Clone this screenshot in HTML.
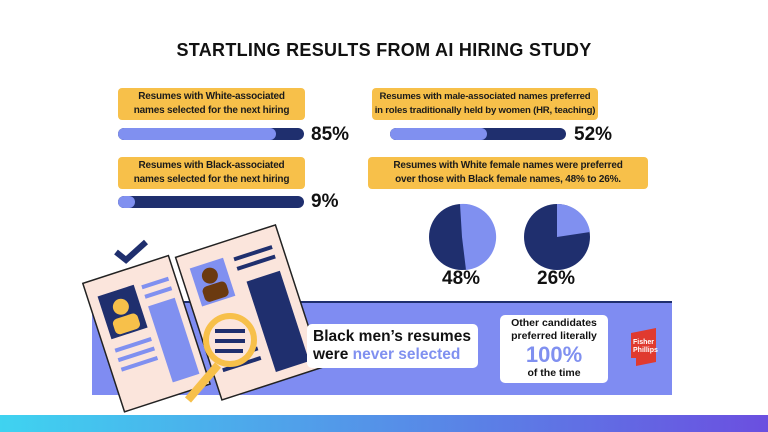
<!DOCTYPE html>
<html><head><meta charset="utf-8"><style>
*{margin:0;padding:0;box-sizing:border-box}
body{width:768px;height:432px;background:#fff;position:relative;overflow:hidden;font-family:"Liberation Sans",sans-serif;font-weight:bold}
.a{position:absolute}
.lab{position:absolute;background:#f7c04a;border-radius:4px;font-size:10px;letter-spacing:-0.2px;line-height:14px;text-align:center;color:#1b1b1b;padding:2px 0;white-space:nowrap;height:32px}
.bar{position:absolute;height:12px;border-radius:6px;background:#1f2f6e;overflow:hidden}
.bar i{display:block;height:100%;background:#8090f0;border-radius:6px}
.pct{position:absolute;font-size:19px;color:#111}
</style></head><body>
<div class="a" style="left:0;top:40px;width:768px;text-align:center;font-size:18px;color:#111;letter-spacing:0.3px">STARTLING RESULTS FROM AI HIRING STUDY</div>

<div class="lab" style="left:118px;top:88px;width:187px">Resumes with White-associated<br>names selected for the next hiring</div>
<div class="bar" style="left:118px;top:128px;width:186px"><i style="width:85%"></i></div>
<div class="pct" style="left:311px;top:124px">85%</div>
<div class="lab" style="left:118px;top:157px;width:187px">Resumes with Black-associated<br>names selected for the next hiring</div>
<div class="bar" style="left:118px;top:196px;width:186px"><i style="width:9%"></i></div>
<div class="pct" style="left:311px;top:191px">9%</div>

<div class="lab" style="left:372px;top:88px;width:226px;font-size:9.6px">Resumes with male-associated names preferred<br>in roles traditionally held by women (HR, teaching)</div>
<div class="bar" style="left:390px;top:128px;width:176px"><i style="width:55%"></i></div>
<div class="pct" style="left:574px;top:124px">52%</div>
<div class="lab" style="left:368px;top:157px;width:280px">Resumes with White female names were preferred<br>over those with Black female names, 48% to 26%.</div>

<svg class="a" style="left:0;top:0" width="768" height="432">
<circle cx="462" cy="237" r="33" fill="#1f2f6e"/>
<path d="M462 237 L460 204 A33 33 0 0 1 466 270 Z" fill="#8090f0"/>
<circle cx="557" cy="237" r="33" fill="#1f2f6e"/>
<path d="M557 237 L557 204 A33 33 0 0 1 590 232 Z" fill="#8090f0"/>
<rect x="92" y="302" width="580" height="93" fill="#7f8cf2"/>
<rect x="92" y="301" width="580" height="2" fill="#1f2f6e"/>
<defs><linearGradient id="g" x1="0" x2="1"><stop offset="0" stop-color="#3fd3f0"/><stop offset="1" stop-color="#6b4fe0"/></linearGradient></defs>
<rect x="0" y="415" width="768" height="17" fill="url(#g)"/>
<path d="M116 252 L126 260 L146 242" stroke="#1f2f6e" stroke-width="6" fill="none"/>
<g transform="rotate(-18 140 330)">
<rect x="100" y="268" width="90" height="135" fill="#fbe5dc" stroke="#222" stroke-width="1.5"/>
<rect x="110" y="285" width="38" height="45" fill="#1f2f6e"/>
<circle cx="129" cy="302" r="8" fill="#f7c04a"/><rect x="116" y="312" width="26" height="16" rx="5" fill="#f7c04a"/>
<rect x="155" y="288" width="28" height="4" fill="#8090f0"/><rect x="155" y="298" width="28" height="4" fill="#8090f0"/>
<rect x="155" y="310" width="28" height="80" fill="#8090f0"/>
<rect x="110" y="340" width="38" height="4" fill="#8090f0"/><rect x="110" y="350" width="38" height="4" fill="#8090f0"/><rect x="110" y="360" width="38" height="4" fill="#8090f0"/>
</g>
<g transform="rotate(-18 240 310)">
<rect x="195" y="240" width="105" height="150" fill="#fbe5dc" stroke="#222" stroke-width="1.5"/>
<rect x="205" y="255" width="35" height="40" fill="#8090f0"/>
<circle cx="222" cy="268" r="8" fill="#6b3a10"/><rect x="210" y="277" width="25" height="16" rx="5" fill="#6b3a10"/>
<rect x="250" y="258" width="40" height="4" fill="#1f2f6e"/><rect x="250" y="268" width="40" height="4" fill="#1f2f6e"/>
<rect x="255" y="285" width="35" height="95" fill="#1f2f6e"/>
<rect x="205" y="350" width="40" height="4" fill="#1f2f6e"/><rect x="205" y="360" width="40" height="4" fill="#1f2f6e"/>
</g>
<line x1="218" y1="365" x2="188" y2="400" stroke="#f7c04a" stroke-width="8"/>
<circle cx="230" cy="340" r="24" fill="#fbe5dc" stroke="#f7c04a" stroke-width="6"/>
<rect x="215" y="329" width="30" height="4" fill="#1f2f6e"/><rect x="215" y="339" width="30" height="4" fill="#1f2f6e"/><rect x="215" y="349" width="28" height="4" fill="#1f2f6e"/>
<path d="M631 333 L656 328 L656 362 L636 366 L636 358 L631 358 Z" fill="#e03a2f"/>
<text x="633" y="344" font-size="7" fill="#fff" font-family="Liberation Sans" font-weight="bold">Fisher</text>
<text x="633" y="352" font-size="7" fill="#fff" font-family="Liberation Sans" font-weight="bold">Phillips</text>
</svg>
<div class="pct" style="left:442px;top:268px">48%</div>
<div class="pct" style="left:537px;top:268px">26%</div>

<div class="a" style="left:307px;top:324px;width:171px;height:44px;background:#fff;border-radius:5px;font-size:15.5px;line-height:18px;padding:4px 6px;color:#111;white-space:nowrap">Black men’s resumes<br>were <span style="color:#8090f0">never selected</span></div>
<div class="a" style="left:500px;top:315px;width:108px;height:68px;background:#fff;border-radius:5px;text-align:center;color:#111;font-size:10.5px;line-height:13px;padding-top:2px;white-space:nowrap">Other candidates<br>preferred literally<br><span style="font-size:22px;line-height:24px;color:#8090f0">100%</span><br>of the time</div>
</body></html>
